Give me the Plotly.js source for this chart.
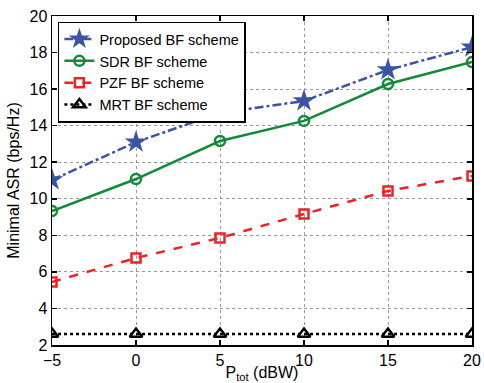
<!DOCTYPE html>
<html><head><meta charset="utf-8">
<script src="https://cdn.plot.ly/plotly-3.0.1.min.js"></script>
<style>html,body{margin:0;padding:0;background:#fff;}#chart{width:484px;height:383px;}</style>
</head><body><div id="chart"></div>
<script>
const xVals = [-5, 0, 5, 10, 15, 20];
const proposed = [11.03, 13.1, 14.7, 15.35, 17.05, 18.3];
const sdr = [9.33, 11.08, 13.16, 14.26, 16.28, 17.48];
const pzf = [5.45, 6.76, 7.86, 9.17, 10.43, 11.25];
const mrt = [2.6, 2.6, 2.6, 2.6, 2.6, 2.6];
const names = ['Proposed BF scheme', 'SDR BF scheme', 'PZF BF scheme', 'MRT BF scheme'];
const xTicks = [-5, 0, 5, 10, 15, 20];
const yTicks = [2, 4, 6, 8, 10, 12, 14, 16, 18, 20];

const FONT = 'Liberation Sans, Arial, sans-serif';

const traces = [
  {x: xVals, y: proposed, name: names[0], mode: 'lines+markers',
   line: {color: '#3a53a4', width: 2.5, dash: 'dashdot'},
   marker: {symbol: 'star', size: 17, color: '#3a53a4'}},
  {x: xVals, y: sdr, name: names[1], mode: 'lines+markers',
   line: {color: '#138a3a', width: 2.5, dash: 'solid'},
   marker: {symbol: 'circle-open', size: 10, color: '#138a3a', line: {width: 2.5, color: '#138a3a'}}},
  {x: xVals, y: pzf, name: names[2], mode: 'lines+markers',
   line: {color: '#ec2227', width: 2.5, dash: 'dash'},
   marker: {symbol: 'square-open', size: 9, color: '#ec2227', line: {width: 2.5, color: '#ec2227'}}},
  {x: xVals, y: mrt, name: names[3], mode: 'lines+markers',
   line: {color: '#000000', width: 2.5, dash: 'dot'},
   marker: {symbol: 'triangle-up-open', size: 11, color: '#000000', line: {width: 2.5, color: '#000000'}}}
];

const axisCommon = {
  showline: true, mirror: 'ticks', linecolor: '#000', linewidth: 1.5,
  ticks: 'inside', ticklen: 5, tickcolor: '#000', tickwidth: 1.5,
  showgrid: true, gridcolor: '#999', griddash: 'dot', gridwidth: 1,
  zeroline: false, tickfont: {family: FONT, size: 16, color: '#000'}
};

const layout = {
  width: 484, height: 383,
  margin: {l: 52, r: 12, t: 16, b: 38},
  paper_bgcolor: '#fff', plot_bgcolor: '#fff',
  showlegend: true,
  legend: {x: 0.014, y: 0.983, xanchor: 'left', yanchor: 'top',
    bgcolor: '#fff', bordercolor: '#000', borderwidth: 1.5,
    font: {family: FONT, size: 14.5, color: '#000'},
    tracegroupgap: 0, itemwidth: 30},
  xaxis: Object.assign({}, axisCommon, {range: [-5, 20], tickvals: xTicks,
    title: {text: 'P<sub>tot</sub> (dBW)', standoff: 2,
      font: {family: FONT, size: 16, color: '#000'}}}),
  yaxis: Object.assign({}, axisCommon, {range: [2, 20], tickvals: yTicks,
    title: {text: 'Minimal ASR (bps/Hz)', standoff: 6,
      font: {family: FONT, size: 16, color: '#000'}}})
};

Plotly.newPlot('chart', traces, layout, {displayModeBar: false, staticPlot: true});
</script></body></html>
